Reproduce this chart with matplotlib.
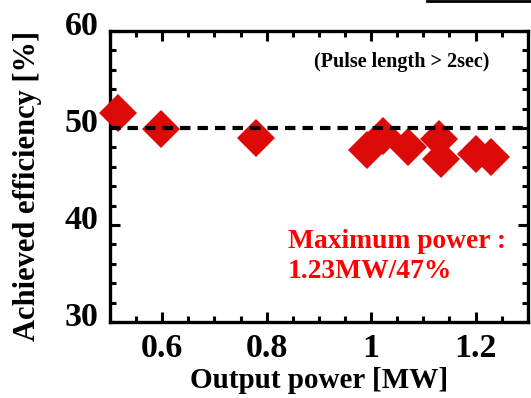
import matplotlib
matplotlib.use("Agg")
import matplotlib.pyplot as plt
import matplotlib.transforms as mtransforms
from matplotlib.ticker import MultipleLocator

plt.rcParams['font.family'] = 'Liberation Serif'
plt.rcParams['font.weight'] = 'bold'

# Potencia de salida [MW] y eficiencia alcanzada [%]
potencia = [0.516, 0.598, 0.779, 0.992, 1.022, 1.071, 1.130, 1.134, 1.201, 1.23]
eficiencia = [51.6, 49.9, 49.0, 47.7, 49.2, 48.0, 48.9, 46.8, 47.3, 47.0]
referencia = 50  # línea de referencia

fig = plt.figure(figsize=(5.31, 3.98), dpi=100)
ax = fig.add_axes([0.207, 0.191, 0.787, 0.731])

ax.plot(potencia, eficiencia, linestyle='none', marker='D', markersize=19,
        color='#dd0a0a', markeredgewidth=0, clip_on=False, zorder=5)
ax.axhline(referencia, color='black', linewidth=3, dashes=(2.5, 1.7), zorder=6)

ax.set_xlim(0.5, 1.3)
ax.set_ylim(30, 60)
ax.xaxis.set_minor_locator(MultipleLocator(0.05))
ax.yaxis.set_major_locator(MultipleLocator(10))
ax.yaxis.set_minor_locator(MultipleLocator(2))
ax.set_xticks([0.6, 0.8, 1.0, 1.2])
ax.set_xticklabels(['0.6', '0.8', '1', '1.2'])

ax.tick_params(which='both', direction='in', top=True, right=True, width=2.2)
ax.tick_params(which='major', length=7, labelsize=24.5, pad=8)
ax.tick_params(which='minor', length=4)
for s in ax.spines.values():
    s.set_linewidth(2.4)

# subir un poco las etiquetas del eje y
desplazar = mtransforms.ScaledTranslation(0, 6 / 72, fig.dpi_scale_trans)
for lbl in ax.get_yticklabels():
    lbl.set_transform(lbl.get_transform() + desplazar)

ax.set_xlabel('Output power [MW]', fontsize=21, fontweight='bold', labelpad=2)
ax.set_ylabel('Achieved efficiency [%]', fontsize=22, fontweight='bold')
ax.yaxis.set_label_coords(-0.163, 0.467)

ax.text(0.909, 0.893, '(Pulse length > 2sec)', transform=ax.transAxes,
        ha='right', va='center', fontsize=14.5, fontweight='bold')
ax.text(0.426, 0.225, 'Maximum power :\n1.23MW/47%', transform=ax.transAxes,
        ha='left', va='center', fontsize=19.8, fontweight='bold', color='#ff0000',
        linespacing=1.25)

# trozo de línea en la esquina superior
fig.add_artist(plt.Line2D([0.805, 1.0], [0.997, 0.997], color='black', linewidth=2))

fig.savefig('out.png', dpi=100)
